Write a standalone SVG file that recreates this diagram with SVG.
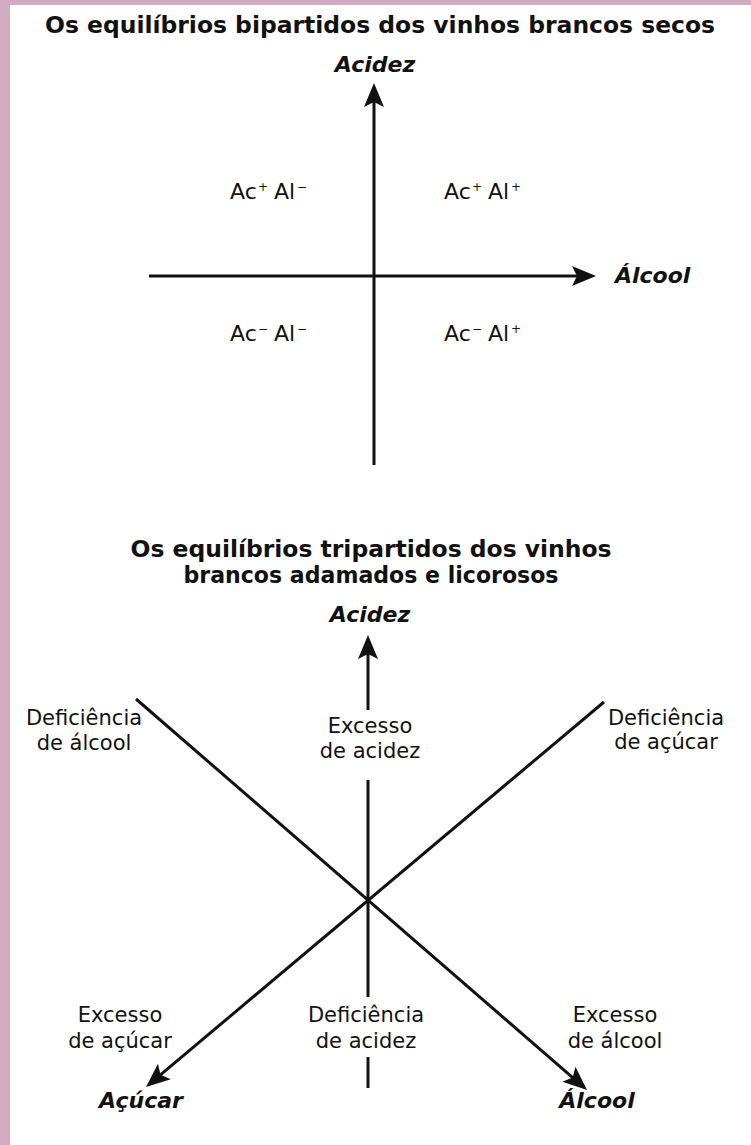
<svg xmlns="http://www.w3.org/2000/svg" width="751" height="1145" viewBox="0 0 751 1145">
<defs>
<style>
.t{font-family:"DejaVu Sans","Open Sans",sans-serif;fill:#111}
.ttl{font-weight:bold;font-size:23px;text-anchor:middle}
.ax{font-weight:bold;font-style:italic;font-size:22px;text-anchor:middle}
.lb{font-size:21px;text-anchor:middle}
.ql{font-size:22px}
.sp{font-size:12px}
.ln{stroke:#111;stroke-width:3;fill:none}
</style>
<marker id="ah" markerUnits="userSpaceOnUse" viewBox="-20 -11 28 22" refX="0" refY="0" markerWidth="28" markerHeight="22" orient="auto">
<path d="M6,0 L-18,-10 L-13,0 L-18,10 Z" fill="#111"/>
</marker>
</defs>
<rect x="0" y="0" width="751" height="1145" fill="#ffffff"/>
<rect x="0" y="0" width="751" height="5" fill="#d3abc0"/>
<rect x="0" y="0" width="10" height="1145" fill="#d3abc0"/>

<g id="title-top"><text class="t ttl" x="380" y="33" textLength="670" lengthAdjust="spacingAndGlyphs">Os equilíbrios bipartidos dos vinhos brancos secos</text></g>

<g id="connectors-top">
<line class="ln" x1="374" y1="465" x2="374" y2="89" marker-end="url(#ah)"/>
<line class="ln" x1="149" y1="276" x2="590" y2="276" marker-end="url(#ah)"/>
</g>

<g id="axis-acidez-top"><text class="t ax" x="375" y="72">Acidez</text></g>
<g id="axis-alcool-top"><text class="t ax" x="615" y="283" style="text-anchor:start">Álcool</text></g>

<g id="q-acp-alm"><text class="t ql" y="199"><tspan x="230">Ac</tspan><tspan class="sp" x="258" dy="-8">+</tspan><tspan x="274" dy="8">Al</tspan><tspan class="sp" x="297" dy="-8">−</tspan></text></g>
<g id="q-acp-alp"><text class="t ql" y="199"><tspan x="444">Ac</tspan><tspan class="sp" x="472" dy="-8">+</tspan><tspan x="488" dy="8">Al</tspan><tspan class="sp" x="511" dy="-8">+</tspan></text></g>
<g id="q-acm-alm"><text class="t ql" y="341"><tspan x="230">Ac</tspan><tspan class="sp" x="258" dy="-8">−</tspan><tspan x="274" dy="8">Al</tspan><tspan class="sp" x="297" dy="-8">−</tspan></text></g>
<g id="q-acm-alp"><text class="t ql" y="341"><tspan x="444">Ac</tspan><tspan class="sp" x="472" dy="-8">−</tspan><tspan x="488" dy="8">Al</tspan><tspan class="sp" x="511" dy="-8">+</tspan></text></g>

<g id="title-bottom"><text class="t ttl" x="371" y="557" textLength="481" lengthAdjust="spacingAndGlyphs">Os equilíbrios tripartidos dos vinhos</text><text class="t ttl" x="371" y="583" textLength="375" lengthAdjust="spacingAndGlyphs">brancos adamados e licorosos</text></g>

<g id="connectors-bottom">
<line class="ln" x1="368" y1="710" x2="368" y2="641" marker-end="url(#ah)"/>
<line class="ln" x1="368" y1="780" x2="368" y2="997"/>
<line class="ln" x1="368" y1="1057" x2="368" y2="1088"/>
<line class="ln" x1="136" y1="699" x2="582.5" y2="1086.1" marker-end="url(#ah)"/>
<line class="ln" x1="604" y1="702" x2="150.6" y2="1083.1" marker-end="url(#ah)"/>
</g>

<g id="axis-acidez-bottom"><text class="t ax" x="370" y="622">Acidez</text></g>
<g id="axis-acucar"><text class="t ax" x="141" y="1108">Açúcar</text></g>
<g id="axis-alcool-bottom"><text class="t ax" x="597" y="1108">Álcool</text></g>

<g id="lbl-def-alcool"><text class="t lb" x="84" y="725">Deficiência</text><text class="t lb" x="84" y="750">de álcool</text></g>
<g id="lbl-exc-acidez"><text class="t lb" x="370" y="733">Excesso</text><text class="t lb" x="370" y="758">de acidez</text></g>
<g id="lbl-def-acucar"><text class="t lb" x="666" y="725">Deficiência</text><text class="t lb" x="666" y="749">de açúcar</text></g>
<g id="lbl-exc-acucar"><text class="t lb" x="120" y="1022">Excesso</text><text class="t lb" x="120" y="1048">de açúcar</text></g>
<g id="lbl-def-acidez"><text class="t lb" x="366" y="1022">Deficiência</text><text class="t lb" x="366" y="1048">de acidez</text></g>
<g id="lbl-exc-alcool"><text class="t lb" x="615" y="1022">Excesso</text><text class="t lb" x="615" y="1048">de álcool</text></g>
</svg>
